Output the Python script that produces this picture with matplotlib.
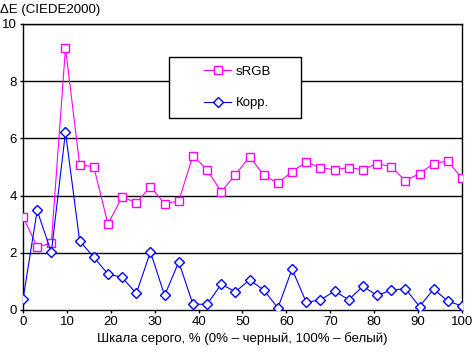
import matplotlib
matplotlib.use("Agg")
from matplotlib import pyplot as plt
from matplotlib.patches import Rectangle
import numpy as np

plt.rcParams["font.family"] = ["Liberation Sans", "DejaVu Sans"]

# gray levels, % (32 steps from black to white)
gray = np.linspace(0, 100, 32)

srgb = [3.26, 2.21, 2.33, 9.17, 5.08, 5.01, 3.00, 3.96, 3.75, 4.31, 3.72, 3.81,
        5.40, 4.90, 4.14, 4.73, 5.36, 4.72, 4.43, 4.84, 5.17, 4.98, 4.90, 4.98,
        4.91, 5.12, 5.01, 4.52, 4.77, 5.12, 5.21, 4.60]

corr = [0.37, 3.48, 2.02, 6.22, 2.42, 1.84, 1.26, 1.14, 0.58, 2.03, 0.51, 1.68,
        0.20, 0.20, 0.90, 0.64, 1.05, 0.70, 0.07, 1.43, 0.27, 0.35, 0.66, 0.36,
        0.83, 0.51, 0.69, 0.75, 0.12, 0.73, 0.31, 0.14]

W, H = 472, 353
fig = plt.figure(figsize=(4.72, 3.53), dpi=100)
ax = fig.add_axes([23 / W, 1 - 310 / H, 439 / W, 286 / H])

for y in [2, 4, 6, 8, 10]:
    ax.axhline(y, color="black", linewidth=1.0, zorder=1)

ax.plot(gray, srgb, color="#FF00FF", linewidth=0.8, marker="s", markersize=6.3,
        markerfacecolor="white", markeredgecolor="#FF00FF", markeredgewidth=1.0,
        label="sRGB", zorder=3)
ax.plot(gray, corr, color="#0000FF", linewidth=0.8, marker="D", markersize=4.6,
        markerfacecolor="white", markeredgecolor="#0000FF", markeredgewidth=1.0,
        label="Корр.", zorder=4)

ax.set_xlim(0, 100)
ax.set_ylim(0, 10)
ax.set_xticks(np.arange(0, 101, 10))
ax.set_yticks(np.arange(0, 11, 2))
ax.tick_params(direction="out", length=2.5, width=1, labelsize=9.5, pad=2)
for s in ax.spines.values():
    s.set_linewidth(1.0)

ax.set_xlabel("Шкала серого, % (0% – черный, 100% – белый)", fontsize=9.5, labelpad=3)
fig.text(0.0, 0.99, "ΔE (CIEDE2000)", fontsize=9.5, ha="left", va="top")

# legend box drawn as a separate frame, entries placed inside it
ax.add_patch(Rectangle((169 / W, 1 - 118 / H), 132 / W, 61 / H,
                       transform=fig.transFigure, facecolor="white",
                       edgecolor="black", linewidth=1.0, zorder=5, clip_on=False))
leg = ax.legend(loc="center left", bbox_to_anchor=(204 / W, 1 - 87.5 / H),
                bbox_transform=fig.transFigure, fontsize=9.5, frameon=False,
                borderpad=0, labelspacing=1.45, handlelength=2.05,
                handletextpad=0.35, borderaxespad=0)
leg.set_zorder(6)

fig.savefig("out.png", dpi=100)
